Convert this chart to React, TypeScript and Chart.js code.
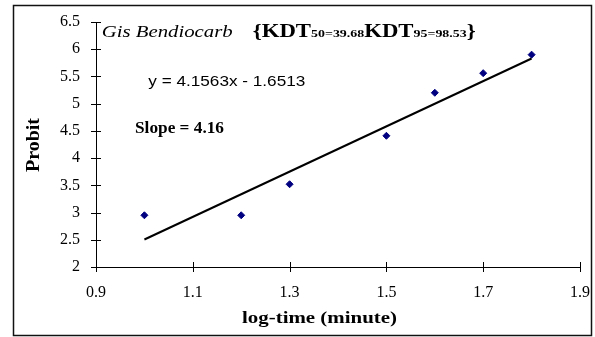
import React, { useEffect, useRef } from "react";
import { Chart, registerables } from "chart.js";

Chart.register(...registerables);

const logTime = [1.0, 1.2, 1.3, 1.5, 1.6, 1.7, 1.8];
const probit = [2.95, 2.95, 3.52, 4.41, 5.2, 5.56, 5.9];
const trendSlope = 4.1563;
const trendIntercept = -1.6513;
const trendRange = [1.0, 1.8];
const xTickValues = [0.9, 1.1, 1.3, 1.5, 1.7, 1.9];
const yTickValues = [2, 2.5, 3, 3.5, 4, 4.5, 5, 5.5, 6, 6.5];

const seriesName = "Gis Bendiocarb";
const kdtLabel = "KDT";
const kdt50Text = "50=39.68";
const kdt95Text = "95=98.53";
const equationText = "y = 4.1563x - 1.6513";
const slopeText = "Slope = 4.16";
const yTitle = "Probit";
const xTitle = "log-time (minute)";

const SERIF = "'Times New Roman', 'Liberation Serif', serif";
const SANS = "Arial, 'Liberation Sans', sans-serif";

type Part = { text: string; font: string };

function fitText(
  ctx: CanvasRenderingContext2D,
  parts: Part[],
  x: number,
  y: number,
  width: number,
  align: "left" | "center",
  rotate = 0
) {
  ctx.save();
  let total = 0;
  const ws = parts.map((p) => {
    ctx.font = p.font;
    const w = ctx.measureText(p.text).width;
    total += w;
    return w;
  });
  const sx = width / total;
  ctx.translate(x, y);
  if (rotate) ctx.rotate(rotate);
  ctx.scale(sx, 1);
  let cx = align === "center" ? -total / 2 : 0;
  ctx.fillStyle = "#000";
  ctx.textBaseline = "alphabetic";
  ctx.textAlign = "left";
  parts.forEach((p, i) => {
    ctx.font = p.font;
    ctx.fillText(p.text, cx, 0);
    cx += ws[i];
  });
  ctx.restore();
}

const annotationPlugin = {
  id: "annotations",
  afterDraw(chart: any) {
    const ctx: CanvasRenderingContext2D = chart.ctx;
    const xs = chart.scales.x;
    const ys = chart.scales.y;
    const area = chart.chartArea;
    ctx.save();
    // crossing tick marks
    ctx.strokeStyle = "#000";
    ctx.lineWidth = 1;
    ctx.beginPath();
    xTickValues.forEach((v) => {
      const px = Math.round(xs.getPixelForValue(v)) + 0.5;
      ctx.moveTo(px, area.bottom - 5);
      ctx.lineTo(px, area.bottom + 5);
    });
    yTickValues.forEach((v) => {
      const py = Math.round(ys.getPixelForValue(v)) + 0.5;
      ctx.moveTo(area.left - 5, py);
      ctx.lineTo(area.left + 5, py);
    });
    ctx.stroke();

    // outer border
    ctx.lineWidth = 1.5;
    ctx.strokeStyle = "#111";
    ctx.strokeRect(13.5, 5.5, 578, 330);
    ctx.restore();

    // title line
    fitText(ctx, [{ text: seriesName, font: `italic 17px ${SERIF}` }], 101.7, 36.7, 131, "left");
    fitText(
      ctx,
      [
        { text: "{", font: `bold 18px ${SERIF}` },
        { text: kdtLabel, font: `bold 18px ${SERIF}` },
        { text: kdt50Text, font: `bold 11px ${SERIF}` },
        { text: kdtLabel, font: `bold 18px ${SERIF}` },
        { text: kdt95Text, font: `bold 11px ${SERIF}` },
        { text: "}", font: `bold 18px ${SERIF}` },
      ],
      252.7,
      36.7,
      223,
      "left"
    );
    fitText(ctx, [{ text: equationText, font: `15px ${SANS}` }], 148.3, 86, 157, "left");
    fitText(ctx, [{ text: slopeText, font: `bold 16px ${SERIF}` }], 135, 133.3, 89, "left");
    fitText(ctx, [{ text: xTitle, font: `bold 17px ${SERIF}` }], 319.5, 323, 155, "center");
    fitText(ctx, [{ text: yTitle, font: `bold 18px ${SERIF}` }], 39, 145, 54, "center", -Math.PI / 2);
  },
};

export default function App() {
  const ref = useRef<HTMLCanvasElement | null>(null);
  useEffect(() => {
    document.body.style.margin = "0";
    const canvas = ref.current;
    if (!canvas) return;
    const points = logTime.map((x, i) => ({ x, y: probit[i] }));
    const trend = trendRange.map((x) => ({ x, y: trendSlope * x + trendIntercept }));
    const chart = new Chart(canvas, {
      type: "scatter",
      data: {
        datasets: [
          {
            label: "trend",
            data: trend,
            showLine: true,
            borderColor: "#000",
            borderWidth: 2,
            pointRadius: 0,
            fill: false,
          } as any,
          {
            label: seriesName,
            data: points,
            pointStyle: "rectRot",
            pointRadius: 3.5,
            pointBorderWidth: 1,
            backgroundColor: "#000080",
            borderColor: "#000080",
          },
        ],
      },
      options: {
        responsive: false,
        animation: false,
        layout: { padding: { left: 0, right: 15, top: 22, bottom: 0 } },
        plugins: { legend: { display: false }, tooltip: { enabled: false } },
        scales: {
          x: {
            type: "linear",
            min: 0.9,
            max: 1.9,
            afterBuildTicks: (scale: any) => {
              scale.ticks = xTickValues.map((v) => ({ value: v }));
            },
            afterFit: (scale: any) => {
              scale.height = 70;
              scale.paddingRight = 0;
              scale.paddingLeft = 0;
            },
            grid: { display: false, drawTicks: false },
            border: { display: true, color: "#000", width: 1 },
            ticks: {
              padding: 16,
              color: "#000",
              font: { family: SERIF, size: 16 },
              callback: (v: any) => String(Math.round(Number(v) * 10) / 10),
            },
          },
          y: {
            type: "linear",
            min: 2,
            max: 6.5,
            afterBuildTicks: (scale: any) => {
              scale.ticks = yTickValues.map((v) => ({ value: v }));
            },
            afterFit: (scale: any) => {
              scale.width = 96;
              scale.paddingTop = 0;
              scale.paddingBottom = 0;
            },
            grid: { display: false, drawTicks: false },
            border: { display: true, color: "#000", width: 1 },
            ticks: {
              padding: 16,
              color: "#000",
              font: { family: SERIF, size: 16 },
              callback: (v: any) => String(Math.round(Number(v) * 10) / 10),
            },
          },
        },
      },
      plugins: [annotationPlugin],
    });
    return () => chart.destroy();
  }, []);
  return (
    <div style={{ width: 595, height: 337 }}>
      <canvas ref={ref} width={595} height={337} style={{ display: "block" }} />
    </div>
  );
}
